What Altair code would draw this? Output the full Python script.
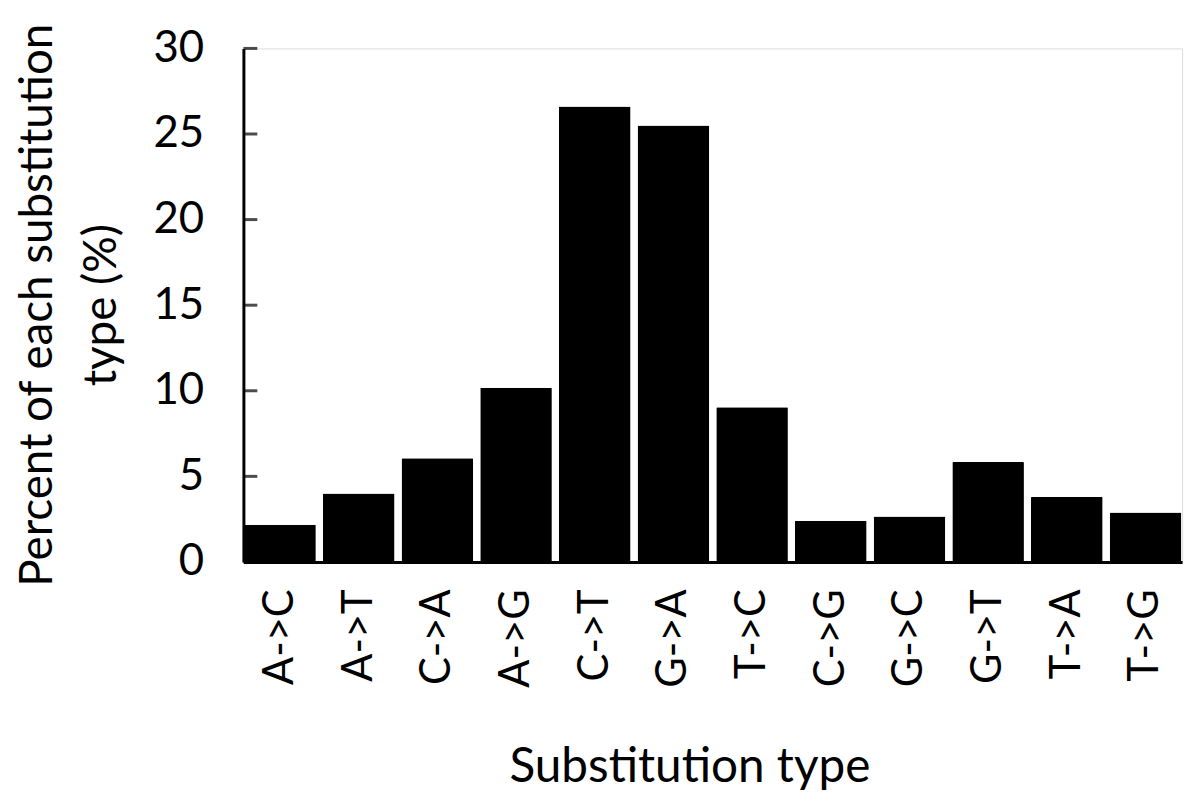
import altair as alt
import pandas as pd

categories = ["A->C", "A->T", "C->A", "A->G", "C->T", "G->A", "T->C",
              "C->G", "G->C", "G->T", "T->A", "T->G"]
values = [2.18, 4.0, 6.06, 10.17, 26.6, 25.5, 9.03, 2.40, 2.66, 5.84, 3.80, 2.89]
y_ticks = [0, 5, 10, 15, 20, 25, 30]

df = pd.DataFrame({"type": categories, "pct": values})
tick_df = pd.DataFrame({"v": y_ticks})

FONT = "Lato"

bars = alt.Chart(df).mark_bar(color="black", cornerRadius=1).encode(
    x=alt.X("type:N", sort=categories,
            scale=alt.Scale(paddingInner=0.09, paddingOuter=0.01),
            axis=alt.Axis(title="Substitution type", labelAngle=270,
                          labelAlign="right", labelBaseline="middle",
                          labelPadding=27, ticks=False, domainWidth=3,
                          domainColor="black", labelFontSize=42,
                          labelFont=FONT, labelColor="black",
                          titleFont=FONT, titleFontSize=48,
                          titleFontWeight="normal", titleColor="black",
                          titleX=449, titleY=207, titleBaseline="middle")),
    y=alt.Y("pct:Q", scale=alt.Scale(domain=[0, 30], nice=False),
            axis=alt.Axis(values=y_ticks, title=["Percent of each substitution", "type (%)"],
                          tickSize=0, labelPadding=40, domainWidth=3,
                          domainColor="black", labelFontSize=44,
                          labelFont=FONT, labelColor="black", grid=False,
                          titleFont=FONT, titleFontSize=46,
                          titleFontWeight="normal", titleColor="black",
                          titleAngle=270, titleLineHeight=64,
                          titleX=-207, titleY=258, titleAlign="center",
                          titleBaseline="middle")),
)

ticks = alt.Chart(tick_df).mark_tick(color="black", thickness=3, size=14,
                                     orient="horizontal").encode(
    y=alt.Y("v:Q"),
    x=alt.value(7),
)

chart = alt.layer(bars, ticks).properties(
    width=945, height=517,
    autosize=alt.AutoSizeParams(type="none"),
    padding={"left": 237, "top": 38, "right": 10, "bottom": 240},
).configure_view(stroke=None).configure(background="white")

chart.save("out.html", embed_options={"renderer": "svg", "actions": False})
